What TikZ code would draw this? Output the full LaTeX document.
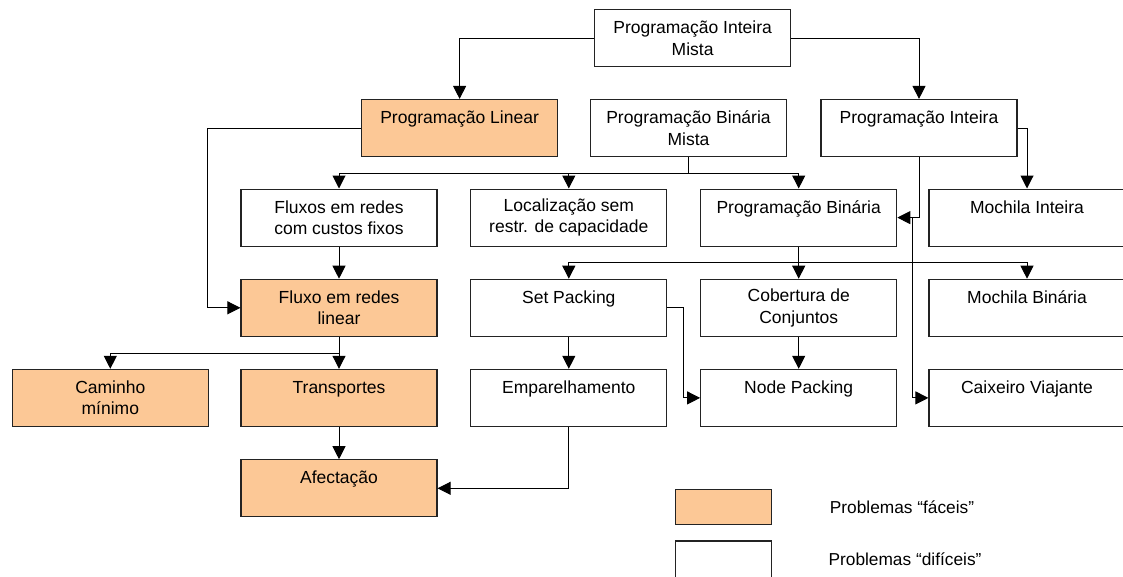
\documentclass[tikz,border=0pt]{standalone}
\usepackage{fontspec}
\setmainfont{Liberation Sans}
\usetikzlibrary{arrows.meta}
\definecolor{easyfill}{RGB}{252,200,150}
\definecolor{edge}{RGB}{35,35,35}

\begin{document}
\begin{tikzpicture}[x=1pt,y=-1pt,
  box/.style={draw=edge, line width=1.2pt, minimum width=196pt, minimum height=57pt,
    inner sep=0pt, align=center, font=\fontsize{17.5}{21.5}\selectfont},
  easy/.style={box, fill=easyfill},
  hard/.style={box, fill=white},
  wire/.style={draw=black, line width=1pt},
  arr/.style={wire, -{Triangle[length=13pt,width=13pt]}},
  legtext/.style={font=\fontsize{17.3}{20}\selectfont, inner sep=0pt}
]
\path[use as bounding box] (0,0) rectangle (1123,576);
\clip (0,0) rectangle (1123,576);
\fill[white] (0,0) rectangle (1123,576);

% top levels
\node[hard] (pim) at (692.6,38) {Programação Inteira\\Mista};
\node[easy] (pl)  at (459.6,128) {Programação Linear\\\mbox{}};
\node[hard] (pbm) at (688.5,128) {Programação Binária\\Mista};
\node[hard] (pi)  at (919,128)   {Programação Inteira\\\mbox{}};

% third row
\node[hard] (fcf)  at (339,217.6)   {Fluxos em redes\\com custos fixos};
\node[hard] (loc)  at (568.8,217.6) {Localização sem\\restr. de capacidade};
\node[hard] (pbin) at (798.7,217.6) {Programação Binária\\\mbox{}};
\node[hard] (mi)   at (1027,217.6)  {Mochila Inteira\\\mbox{}};

% fourth row
\node[easy] (flin) at (339,307.8)   {Fluxo em redes\\linear};
\node[hard] (sp)   at (568.8,307.8) {Set Packing\\\mbox{}};
\node[hard] (cob)  at (798.7,307.8) {Cobertura de\\Conjuntos};
\node[hard] (mb)   at (1027,307.8)  {Mochila Binária\\\mbox{}};

% fifth row
\node[easy] (cam) at (110.3,397.9) {Caminho\\mínimo};
\node[easy] (tra) at (339,397.9)   {Transportes\\\mbox{}};
\node[hard] (emp) at (568.8,397.9) {Emparelhamento\\\mbox{}};
\node[hard] (np)  at (798.7,397.9) {Node Packing\\\mbox{}};
\node[hard] (cv)  at (1027,397.9)  {Caixeiro Viajante\\\mbox{}};

% sixth row
\node[easy] (afe) at (339,488.3) {Afectação\\\mbox{}};

% legend
\node[easy, minimum width=96pt, minimum height=35pt] (legeasy) at (723.7,506.7) {};
\node[hard, minimum width=96pt, minimum height=40pt] (leghard) at (723.7,561) {};
\node[legtext] (legeasyt) at (902,507.7) {Problemas “fáceis”};
\node[legtext] (leghardt) at (905,559) {Problemas “difíceis”};

% connectors
\draw[arr] (pim.west) -| (pl.north);
\draw[arr] (pim.east) -| (pi.north);
\draw[arr] (pl.west) -- ++(-153.4,0) |- (flin.west);

\coordinate (pbmj) at (688.5,173);
\draw[wire] (pbm.south) -- (pbmj);
\draw[arr] (pbmj) -| (fcf.north);
\draw[arr] (pbmj) -| (loc.north);
\draw[arr] (pbmj) -| (pbin.north);

\draw[arr] (pi.east) -| (mi.north);
\draw[arr] (pi.south) |- (pbin.east);
\coordinate (cvj) at (912.3,217.6);
\draw[arr] (cvj) |- (cv.west);

\coordinate (pbinj) at (798.7,262.7);
\draw[wire] (pbin.south) -- (pbinj);
\draw[arr] (pbinj) -| (sp.north);
\draw[arr] (pbinj) -- (cob.north);
\draw[arr] (pbinj) -| (mb.north);

\draw[arr] (sp.south) -- (emp.north);
\draw[arr] (sp.east) -- ++(16,0) |- (np.west);
\draw[arr] (cob.south) -- (np.north);
\draw[arr] (emp.south) |- (afe.east);

\draw[arr] (fcf.south) -- (flin.north);
\coordinate (flinj) at (339,353.3);
\draw[wire] (flin.south) -- (flinj);
\draw[arr] (flinj) -| (cam.north);
\draw[arr] (flinj) -- (tra.north);
\draw[arr] (tra.south) -- (afe.north);
\end{tikzpicture}
\end{document}
